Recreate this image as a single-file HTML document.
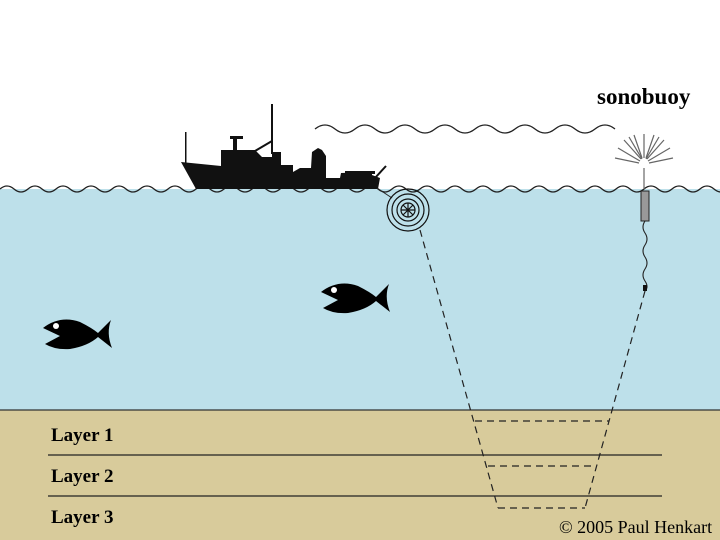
<!DOCTYPE html>
<html><head><style>body{margin:0}svg{display:block}</style></head><body>
<svg width="720" height="540" viewBox="0 0 720 540" xmlns="http://www.w3.org/2000/svg">
<rect width="720" height="540" fill="#fff"/>
<rect y="189" width="720" height="222" fill="#bde0ea"/>
<rect y="410" width="720" height="130" fill="#d8cb9b"/>
<line x1="0" y1="410" x2="720" y2="410" stroke="#333" stroke-width="1.2"/>
<path d="M0 189 q7 -6 14 0 t14 0 t14 0 t14 0 t14 0 t14 0 t14 0 t14 0 t14 0 t14 0 t14 0 t14 0 t14 0 t14 0 t14 0 t14 0 t14 0 t14 0 t14 0 t14 0 t14 0 t14 0 t14 0 t14 0 t14 0 t14 0 t14 0 t14 0 t14 0 t14 0 t14 0 t14 0 t14 0 t14 0 t14 0 t14 0 t14 0 t14 0 t14 0 t14 0 t14 0 t14 0 t14 0 t14 0 t14 0 t14 0 t14 0 t14 0 t14 0 t14 0 t14 0 t14 0 t14 0" fill="none" stroke="#222" stroke-width="1.3"/>
<path d="M315 129 q10 -8 20 0 t20 0 t20 0 t20 0 t20 0 t20 0 t20 0 t20 0 t20 0 t20 0 t20 0 t20 0 t20 0 t20 0 t20 0" fill="none" stroke="#222" stroke-width="1.3"/>
<g fill="#111">
<path d="M181 162 L221 166 L221 150 L255 150 L262 157 L272 157 L272 152 L281 152 L281 165 L293 165 L293 172 L300 168 L311 168 L312 152 L318 148 L322 150 L326 156 L326 178 L340 178 L341 173 L372 172 L372 175 L380 178 L378 189 L196 189 Z"/>
<rect x="271" y="104" width="2" height="50"/>
<rect x="185" y="132" width="1.5" height="32"/>
<rect x="230" y="136" width="13" height="3"/>
<rect x="233" y="138" width="4" height="12"/>
<line x1="255" y1="151" x2="272" y2="141" stroke="#111" stroke-width="2"/>
<line x1="375" y1="178" x2="386" y2="166" stroke="#111" stroke-width="2"/>
<rect x="345" y="171" width="30" height="3"/>
</g>
<line x1="377" y1="188" x2="392" y2="198" stroke="#222" stroke-width="1"/>
<g fill="none" stroke="#111" stroke-width="1.2">
<circle cx="408" cy="210" r="21"/><circle cx="408" cy="210" r="16"/><circle cx="408" cy="210" r="11"/><circle cx="408" cy="210" r="7"/>
<path d="M401 210h14M408 203v14M403 205l10 10M413 205l-10 10"/>
</g>
<g stroke="#666" stroke-width="1.2">
<line x1="644" y1="168" x2="644" y2="189"/>
<g transform="translate(644,164)">
<line x1="0" y1="-6" x2="0" y2="-30"/><line x1="-2" y1="-6" x2="-10" y2="-29"/><line x1="2" y1="-6" x2="10" y2="-29"/>
<line x1="-3" y1="-5" x2="-20" y2="-24"/><line x1="3" y1="-5" x2="20" y2="-24"/><line x1="-4" y1="-3" x2="-26" y2="-16"/>
<line x1="4" y1="-3" x2="26" y2="-16"/><line x1="-5" y1="-1" x2="-29" y2="-6"/><line x1="5" y1="-1" x2="29" y2="-6"/>
<line x1="-2" y1="-5" x2="-15" y2="-27"/><line x1="2" y1="-5" x2="15" y2="-27"/>
</g></g>
<rect x="641" y="191" width="8" height="30" fill="#999" stroke="#222" stroke-width="1"/>
<path d="M645 221 q-4 6 0 12 t0 12 t0 12 t0 12 t0 12 t0 10" fill="none" stroke="#222" stroke-width="1.1"/>
<rect x="643" y="285" width="4" height="6" fill="#111"/>
<text x="597" y="104" font-family="Liberation Serif, serif" font-weight="bold" font-size="23" fill="#000">sonobuoy</text>
<g stroke="#222" stroke-width="1.2" fill="none" stroke-dasharray="7,5">
<line x1="420" y1="230" x2="498" y2="508"/>
<line x1="645" y1="291" x2="585" y2="508"/>
<line x1="475" y1="421" x2="609" y2="421"/>
<line x1="488" y1="466" x2="596" y2="466"/>
<line x1="498" y1="508" x2="585" y2="508"/>
</g>
<line x1="48" y1="455" x2="662" y2="455" stroke="#222" stroke-width="1.2"/>
<line x1="48" y1="496" x2="662" y2="496" stroke="#222" stroke-width="1.2"/>
<g font-family="Liberation Serif, serif" font-weight="bold" font-size="19" fill="#000">
<text x="51" y="441">Layer 1</text><text x="51" y="482">Layer 2</text><text x="51" y="523">Layer 3</text>
</g>
<text x="559" y="533" font-family="Liberation Serif, serif" font-size="18" fill="#000">© 2005 Paul Henkart</text>
<g id="f" fill="#000">
<path d="M43 328 Q60 315 80 322 Q92 328 98 333 L111 320 Q106 333 112 348 L98 337 Q88 346 70 349 Q55 350 45 344 L60 336 Z"/>
<circle cx="56" cy="326" r="3" fill="#fff"/>
</g>
<use href="#f" transform="translate(278,-36)"/>
</svg>
</body></html>
